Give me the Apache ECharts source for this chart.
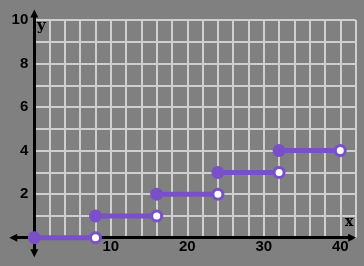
<!DOCTYPE html>
<html><head><meta charset="utf-8">
<script src="https://cdn.jsdelivr.net/npm/echarts@6/dist/echarts.min.js"></script>
<style>html,body{margin:0;padding:0;background:#808080;}#c{width:364px;height:266px;}</style>
</head><body><div id="c"></div>
<script>
// ---- data ----
const segStart = [0, 8, 16, 24, 32];
const segEnd   = [8, 16, 24, 32, 40];
const segLevel = [0, 1, 2, 3, 4];
const xTickLabels = [10, 20, 30, 40];
const yTickLabels = [2, 4, 6, 8, 10];

// ---- layout ----
const ox = 34.3, oy = 237.7, ux = 7.65, uy = 21.77;
const gX = [0, 42], gY = [0, 10];            // gridded region
const aX = [-2.75, 41.55], aY = [-0.72, 10.3]; // axis line extents
function box(xr, yr) {
  return { left: ox + xr[0] * ux, top: oy - yr[1] * uy,
           width: (xr[1] - xr[0]) * ux, height: (yr[1] - yr[0]) * uy,
           containLabel: false, outerBoundsMode: 'none' };
}
const PURPLE = '#7a50c8';
const labelFont = { color: '#000', fontFamily: 'Liberation Sans', fontWeight: 'bold', fontSize: 15 };

const series = [];
segStart.forEach((s, i) => {
  series.push({ type: 'line', xAxisIndex: 0, yAxisIndex: 0, clip: false, showSymbol: false, silent: true,
    lineStyle: { color: PURPLE, width: 5 }, z: 3,
    data: [[s, segLevel[i]], [segEnd[i], segLevel[i]]] });
});
series.push({ type: 'scatter', xAxisIndex: 0, yAxisIndex: 0, clip: false, symbolSize: 13, z: 4,
  itemStyle: { color: PURPLE, opacity: 1 },
  data: segStart.map((s, i) => [s, segLevel[i]]) });
series.push({ type: 'scatter', xAxisIndex: 0, yAxisIndex: 0, clip: false, symbolSize: 10, z: 4,
  itemStyle: { color: '#ffffff', borderColor: PURPLE, borderWidth: 3, opacity: 1 },
  data: segEnd.map((e, i) => [e, segLevel[i]]) });

const chart = echarts.init(document.getElementById('c'), null, { renderer: 'canvas' });
chart.setOption({
  backgroundColor: '#808080',
  animation: false,
  grid: [box(gX, gY), box(aX, aY)],
  xAxis: [
    { type: 'value', gridIndex: 0, min: gX[0], max: gX[1], interval: 2,
      axisLine: { show: false }, axisTick: { show: false },
      splitLine: { show: true, lineStyle: { color: '#cfcfcf', width: 2 } },
      axisLabel: { ...labelFont, margin: 2, showMinLabel: true, showMaxLabel: true,
        formatter: v => xTickLabels.includes(v) ? String(v) : '' } },
    { type: 'value', gridIndex: 1, min: aX[0], max: aX[1],
      axisLine: { show: true, onZero: true, symbol: ['triangle', 'triangle'], symbolSize: [8, 8],
        lineStyle: { color: '#000', width: 3 } },
      axisTick: { show: false }, axisLabel: { show: false }, splitLine: { show: false } }
  ],
  yAxis: [
    { type: 'value', gridIndex: 0, min: gY[0], max: gY[1], interval: 1,
      axisLine: { show: false }, axisTick: { show: false },
      splitLine: { show: true, lineStyle: { color: '#cfcfcf', width: 2 } },
      axisLabel: { ...labelFont, margin: 6, showMinLabel: true, showMaxLabel: true,
        formatter: v => yTickLabels.includes(v) ? String(v) : '' } },
    { type: 'value', gridIndex: 1, min: aY[0], max: aY[1],
      axisLine: { show: true, onZero: true, symbol: ['triangle', 'triangle'], symbolSize: [8, 8],
        lineStyle: { color: '#000', width: 3 } },
      axisTick: { show: false }, axisLabel: { show: false }, splitLine: { show: false } }
  ],
  graphic: [
    { type: 'text', left: 37, top: 19, z: 10,
      style: { text: 'y', fill: '#000', fontFamily: 'DejaVu Serif', fontWeight: 'bold', fontSize: 15 } },
    { type: 'text', left: 345, top: 215, z: 10,
      style: { text: 'x', fill: '#000', fontFamily: 'DejaVu Serif', fontWeight: 'bold', fontSize: 14 } }
  ],
  series
});
</script></body></html>
